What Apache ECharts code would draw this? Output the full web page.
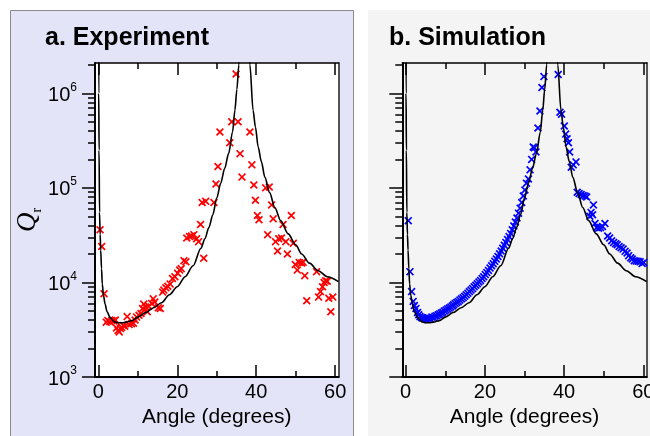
<!DOCTYPE html>
<html><head><meta charset="utf-8">
<script src="https://cdn.jsdelivr.net/npm/echarts@6/dist/echarts.min.js"></script>
<style>html,body{margin:0;padding:0;background:#fff}#c{width:650px;height:436px}</style>
</head><body><div id="c"></div>
<script>
// ---- data ----
const panelTitles = ['a. Experiment', 'b. Simulation'];
const xAxisName = 'Angle (degrees)';
const xMajorTicks = [0, 20, 40, 60];
const xMinorTicks = [10, 30, 50];
const yMajorTicks = [1000, 10000, 100000, 1000000];
const yTickExponents = ['3', '4', '5', '6'];
const yMinorTicks = [2000,3000,4000,5000,6000,7000,8000,9000,
  20000,30000,40000,50000,60000,70000,80000,90000,
  200000,300000,400000,500000,600000,700000,800000,900000,2000000];

const expAngle = [0.43,0.85,1.44,2.0,2.4,2.9,3.4,3.9,4.3,4.6,5.0,5.3,5.6,5.9,6.3,6.7,7.3,7.8,8.4,8.9,9.3,9.7,10.3,10.8,11.2,11.5,12.0,12.4,12.8,13.5,13.9,14.3,15.2,15.7,16.3,16.6,17.1,17.6,18.2,18.8,19.4,20.1,20.6,21.0,21.7,22.2,22.4,23.1,23.6,24.2,24.9,25.4,25.9,26.7,26.3,27.2,29.3,29.8,30.3,30.8,33.3,33.8,34.9,35.4,35.9,36.4,38.4,38.9,39.4,39.8,40.3,40.7,42.4,43.3,42.9,43.9,44.3,44.9,45.4,45.7,46.4,46.8,47.5,47.9,48.9,49.4,49.9,50.4,50.9,51.5,51.9,52.3,52.8,55.3,55.8,56.3,56.8,57.2,57.6,58.0,58.4,58.9,59.4];
const expQ = [36000,24000,7600,3800,3950,3850,3950,3900,4000,3300,3100,3000,3250,3350,3500,3450,4350,3600,3650,3700,4000,4300,4500,4700,5300,5900,5500,4900,5600,6000,6700,6200,5400,5300,7900,8300,8800,9100,9600,11000,11500,12500,13500,14000,17000,16500,29500,30500,31000,32000,29000,27000,41000,18000,70000,72000,70000,110000,168000,390000,300000,500000,1600000,500000,230000,130000,390000,175000,107000,74000,51000,46000,100000,102000,32000,66000,47000,27000,21500,29000,29500,41000,27000,20000,51000,26000,15500,13500,16200,16000,16300,11800,6400,13000,7000,8000,9000,10000,10400,10300,6800,4900,7000];

const simAngle = [0.66,1.09,1.5,1.9,2.2,2.6,3.0,3.3,3.6,4.0,4.3,4.7,5.1,5.5,5.8,6.2,6.6,7.0,7.4,7.8,8.2,8.6,9.0,9.4,9.8,10.2,10.6,11.0,11.4,11.8,12.1,12.5,12.9,13.3,13.7,14.1,14.5,14.9,15.3,15.7,16.1,16.5,16.9,17.3,17.7,18.1,18.5,18.9,19.3,19.7,20.1,20.5,20.9,21.3,21.7,22.1,22.5,22.9,23.3,23.7,24.1,24.5,24.9,25.3,25.7,26.1,26.5,26.9,27.3,27.7,28.1,28.5,28.9,29.3,29.7,30.1,30.5,31.0,31.4,31.8,32.2,32.5,32.9,33.4,33.9,34.4,34.9,38.5,38.95,39.35,40.05,40.4,40.75,41.1,41.4,41.8,42.3,43.0,43.3,43.8,44.3,44.8,45.3,45.7,46.5,46.8,47.2,47.4,47.8,48.2,48.7,49.2,49.7,50.3,51.0,51.5,52.0,52.5,53.0,53.4,53.9,54.4,54.9,55.4,55.9,56.3,56.8,57.2,57.7,58.2,58.7,59.2,59.7,60.1];
const simQ = [45000,13000,8000,6300,5700,5300,4800,4550,4350,4250,4200,4150,4100,4150,4200,4150,4300,4250,4400,4450,4550,4650,4750,4850,5000,5100,5250,5350,5500,5650,5800,6000,6150,6300,6500,6700,6900,7150,7400,7700,8000,8300,8600,9000,9350,9700,10100,10500,11000,11500,12100,12700,13400,14200,15000,15800,16700,17700,18800,20100,21500,23000,24700,26500,28500,30500,33000,36000,39500,43500,48000,54000,61000,70000,82000,95000,112000,124000,155000,200000,270000,265000,240000,430000,650000,1150000,1500000,1580000,630000,600000,450000,370000,330000,300000,240000,165000,175000,188000,90000,87000,85000,83000,82000,80000,50000,55000,52000,66000,42000,38000,37500,38000,39000,42000,31000,29500,27600,26500,25700,25000,24000,23300,22500,21300,20500,19200,18200,17700,17000,16800,16700,16500,15900,16200];

const curveAngle = [0.03,0.1,0.18,0.3,0.45,0.6,0.8,1.0,1.3,1.7,2.2,3.0,4.0,5.0,6.0,7.0,8.5,10,12,14,16,18,20,22,24,26,27,28,29,30,31,32,33,34,34.6,35.1,35.6,36.0,37.0,38.0,38.4,39.2,39.8,40.5,41.3,42.2,43.4,44.7,46.2,48.1,50.0,51.5,53.5,55.7,58.0,60.85];
const curveQ = [2e7,1e6,2.5e5,5.5e4,3.2e4,2.2e4,1.4e4,9.6e3,7.3e3,5.9e3,4.9e3,4.25e3,3.85e3,3.75e3,3.75e3,3.8e3,3.95e3,4.3e3,4.8e3,5.4e3,6.1e3,7.4e3,9.0e3,1.15e4,1.5e4,2.3e4,2.9e4,3.8e4,5.2e4,7.8e4,1.12e5,1.6e5,2.3e5,3.9e5,6.6e5,1.1e6,2.0e6,4e6,null,4e6,2.0e6,6.6e5,4.4e5,2.7e5,1.9e5,1.29e5,8.9e4,6.2e4,4.5e4,3.26e4,2.5e4,2.0e4,1.6e4,1.33e4,1.15e4,1.02e4];

// ---- build chart ----
const pair = (xs, ys) => xs.map((x, i) => [x, ys[i] === null ? '-' : ys[i]]);
const expLabel = v => {
  const i = yMajorTicks.findIndex(t => Math.abs(t - v) / t < 1e-6);
  return i < 0 ? '' : '{b|10}{s|' + yTickExponents[i] + '}';
};
const FONT = 'Liberation Sans';
const X_MIN = -0.85, X_MAX = 60.85, Y_MIN = 1000, Y_MAX = 2.09e6;
const grids = [
  {left: 95, top: 63, width: 243.5, height: 314, show: true, backgroundColor: '#ffffff', borderWidth: 0, containLabel: false, outerBoundsMode: 'none'},
  {left: 402.3, top: 63, width: 244.4, height: 314, show: false, containLabel: false, outerBoundsMode: 'none'}
];
const xAxes = [], yAxes = [], series = [];
const crossPath = 'path://M0,1.5L1.5,0L5,3.5L8.5,0L10,1.5L6.5,5L10,8.5L8.5,10L5,6.5L1.5,10L0,8.5L3.5,5Z';

grids.forEach((g, gi) => {
  const base = {type: 'value', gridIndex: gi, min: X_MIN, max: X_MAX, splitLine: {show: false}};
  const mainX = xAxes.length;
  xAxes.push(Object.assign({}, base, {
    position: 'bottom',
    axisLine: {show: true, onZero: false, lineStyle: {color: '#000', width: 2}},
    axisTick: {show: true, inside: true, length: 12, customValues: xMajorTicks, lineStyle: {color: '#000', width: 1.5}},
    axisLabel: {show: true, customValues: xMajorTicks, margin: 5, fontSize: 20, fontFamily: FONT, color: '#000', hideOverlap: false},
    name: xAxisName, nameLocation: 'middle', nameGap: 21,
    nameTextStyle: {fontSize: 21, fontFamily: FONT, color: '#000'}
  }));
  xAxes.push(Object.assign({}, base, {
    position: 'bottom', axisLine: {show: false, onZero: false},
    axisTick: {show: true, inside: true, length: 6, customValues: xMinorTicks, lineStyle: {color: '#000', width: 1.5}},
    axisLabel: {show: false}
  }));
  xAxes.push(Object.assign({}, base, {
    position: 'top',
    axisLine: {show: true, onZero: false, lineStyle: {color: '#000', width: 1.5}},
    axisTick: {show: true, inside: true, length: 12, customValues: xMajorTicks, lineStyle: {color: '#000', width: 1.5}},
    axisLabel: {show: false}
  }));
  xAxes.push(Object.assign({}, base, {
    position: 'top', axisLine: {show: false, onZero: false},
    axisTick: {show: true, inside: true, length: 6, customValues: xMinorTicks, lineStyle: {color: '#000', width: 1.5}},
    axisLabel: {show: false}
  }));

  const ybase = {type: 'log', logBase: 10, gridIndex: gi, min: Y_MIN, max: Y_MAX, splitLine: {show: false}, minorTick: {show: false}};
  const mainY = yAxes.length;
  yAxes.push(Object.assign({}, ybase, {
    position: 'left',
    axisLine: {show: true, onZero: false, lineStyle: {color: '#000', width: 2}},
    axisTick: {show: true, inside: false, length: 13, customValues: yMajorTicks, lineStyle: {color: '#000', width: 1.5}},
    axisLabel: gi === 0 ? {
      show: true, customValues: yMajorTicks, margin: 18, hideOverlap: false,
      formatter: expLabel,
      rich: {
        b: {fontSize: 20, fontFamily: FONT, color: '#000', lineHeight: 24, verticalAlign: 'bottom'},
        s: {fontSize: 12, fontFamily: FONT, color: '#000', lineHeight: 12, verticalAlign: 'top'}
      }
    } : {show: false},
    name: gi === 0 ? '{q|Q}{r|r}' : '',
    nameLocation: 'middle', nameRotate: 90, nameGap: 50,
    nameTextStyle: {
      rich: {
        q: {fontSize: 27, fontFamily: 'Liberation Serif', fontStyle: 'italic', color: '#000', lineHeight: 26, verticalAlign: 'top'},
        r: {fontSize: 14, fontFamily: 'Liberation Serif', color: '#000', lineHeight: 30, verticalAlign: 'bottom'}
      }
    }
  }));
  yAxes.push(Object.assign({}, ybase, {
    position: 'left', axisLine: {show: false, onZero: false},
    axisTick: {show: true, inside: false, length: 7, customValues: yMinorTicks, lineStyle: {color: '#000', width: 1.5}},
    axisLabel: {show: false}
  }));
  yAxes.push(Object.assign({}, ybase, {
    position: 'right',
    axisLine: {show: true, onZero: false, lineStyle: {color: '#555', width: 2}},
    axisTick: {show: false}, axisLabel: {show: false}
  }));

  const isExp = gi === 0;
  series.push({
    type: 'scatter', xAxisIndex: mainX, yAxisIndex: mainY,
    data: isExp ? pair(expAngle, expQ) : pair(simAngle, simQ),
    symbol: crossPath, symbolSize: 8,
    itemStyle: {color: isExp ? '#ff0000' : '#0000ff', opacity: 1},
    clip: true, z: 3, silent: true
  });
  series.push({
    type: 'line', xAxisIndex: mainX, yAxisIndex: mainY,
    data: pair(curveAngle, curveQ),
    showSymbol: false, symbol: 'none', smooth: 0.3, smoothMonotone: 'x', connectNulls: false,
    lineStyle: {color: '#000', width: 1.6}, clip: true, z: 4, silent: true
  });
});

const chart = echarts.init(document.getElementById('c'), null, {renderer: 'canvas'});
chart.setOption({
  animation: false,
  backgroundColor: '#ffffff',
  title: [
    {text: panelTitles[0], left: 40, top: 21, textStyle: {fontSize: 25, fontWeight: 'bold', fontFamily: FONT, color: '#000'}},
    {text: panelTitles[1], left: 384, top: 21, textStyle: {fontSize: 25, fontWeight: 'bold', fontFamily: FONT, color: '#000'}}
  ],
  graphic: [
    {type: 'rect', z: -100, shape: {x: 10.5, y: 10.5, width: 343, height: 440}, style: {fill: '#e4e4f8', stroke: '#8a8a8a', lineWidth: 1}},
    {type: 'rect', z: -100, shape: {x: 368, y: 10, width: 290, height: 440}, style: {fill: '#f4f4f4'}}
  ],
  grid: grids,
  xAxis: xAxes,
  yAxis: yAxes,
  series: series
});
</script></body></html>
